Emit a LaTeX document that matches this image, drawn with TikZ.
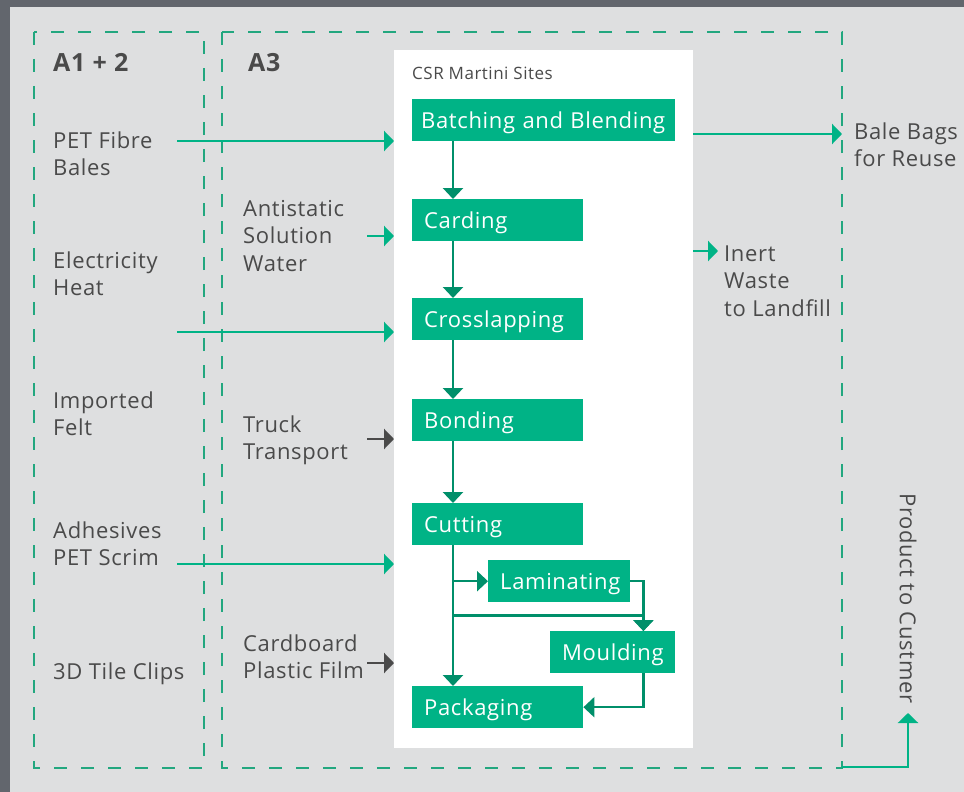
\documentclass[tikz,border=0pt]{standalone}
\usepackage{fontspec}
\setmainfont{Open Sans}[LetterSpace=3.0]
\usetikzlibrary{arrows.meta,positioning}
\definecolor{csrgreen}{HTML}{00B386}
\definecolor{csrdark}{HTML}{008F6A}
\definecolor{csrdash}{HTML}{22A77F}
\definecolor{csrgray}{HTML}{DEDFE0}
\definecolor{csrframe}{HTML}{62666D}
\definecolor{csrtext}{HTML}{4A4A4A}
\tikzset{
	zone/.style     = {draw=csrdash, line width=1.6pt, dash pattern=on 13pt off 14pt},
	sitebox/.style  = {fill=white, anchor=north west, inner sep=0pt, minimum width=299pt, minimum height=698pt},
	procbox/.style  = {fill=csrgreen, text=white, anchor=north west, inner xsep=12pt, inner ysep=0pt,
	                   minimum height=42pt, text height=19pt, text depth=3pt, align=left,
	                   font=\fontsize{22}{26}\selectfont},
	label/.style    = {anchor=base west, inner sep=0pt, align=left, text=csrtext, font=\fontsize{22}{27.5}\selectfont},
	stage/.style    = {label, font=\fontsize{25}{30}\selectfont\bfseries},
	flow/.style     = {draw=csrdark, line width=2.4pt, -{Triangle[width=20pt,length=11pt]}},
	feed/.style     = {draw=csrgreen, line width=2.4pt, -{Triangle[width=20pt,length=10pt]}},
	truck/.style    = {draw=csrtext, line width=2.4pt, -{Triangle[width=20pt,length=10pt]}},
}

\begin{document}
\begin{tikzpicture}[x=1pt, y=-1pt]
	\fill[csrframe] (0,0) rectangle (964,792);
	\fill[csrgray] (10,7) rectangle (964,792);
	\useasboundingbox (0,0) rectangle (964,792);
	% life cycle stages
	\draw[zone] (34,32) rectangle (204,768);
	\draw[zone] (222,32) rectangle (842,768);
	\node[stage] (stagea) at (53,72) {A1 + 2};
	\node[stage] (stageb) at (248,72) {A3};
	% CSR Martini Sites
	\node[sitebox] (site) at (394,50) {};
	\node[label, font=\fontsize{17}{20}\selectfont] (sitename) at (412,80) {CSR Martini Sites};
	\node[procbox, text width=245pt, inner xsep=9pt] (blend) at (412,99) {Batching and Blending};
	\node[procbox, text width=147pt] (card) at (412,199) {Carding};
	\node[procbox, text width=147pt] (cross) at (412,298) {Crosslapping};
	\node[procbox, text width=147pt] (bond) at (412,399) {Bonding};
	\node[procbox, text width=147pt] (cut) at (412,503) {Cutting};
	\node[procbox, text width=118pt] (lam) at (488,560) {Laminating};
	\node[procbox, text width=101pt] (mould) at (550,631) {Moulding};
	\node[procbox, text width=147pt] (pack) at (412,686) {Packaging};
	\draw[flow] ([xshift=41pt]blend.south west) -- ([xshift=41pt]card.north west);
	\draw[flow] ([xshift=41pt]card.south west) -- ([xshift=41pt]cross.north west);
	\draw[flow] ([xshift=41pt]cross.south west) -- ([xshift=41pt]bond.north west);
	\draw[flow] ([xshift=41pt]bond.south west) -- ([xshift=41pt]cut.north west);
	\coordinate (spine) at ([xshift=41pt]cut.south west);
	\coordinate (fork) at ([yshift=-70pt]spine);
	\coordinate (mouldin) at ([xshift=-32pt]mould.north east);
	\coordinate (mouldout) at ([xshift=-32pt]mould.south east);
	\draw[flow] (spine) -- ([xshift=41pt]pack.north west);
	\draw[flow] (spine |- lam.west) -- (lam.west);
	\draw[flow] (lam.east) -| (mouldin);
	\draw[flow] (fork) -| (mouldin);
	\draw[flow] (mouldout) |- (pack.east);
	% inputs
	\node[label] (fibre) at (53,175.5) {PET Fibre\\Bales};
	\node[label] (power) at (53,295.5) {Electricity\\Heat};
	\node[label] (felt) at (53,435.5) {Imported\\Felt};
	\node[label] (glue) at (53,565.5) {Adhesives\\PET Scrim};
	\node[label] (clips) at (53,679) {3D Tile Clips};
	\node[label] (antistat) at (243,271) {Antistatic\\Solution\\Water};
	\node[label] (transport) at (243,459.5) {Truck\\Transport};
	\node[label] (board) at (243,678.5) {Cardboard\\Plastic Film};
	\coordinate (fibrein) at (177,141);
	\coordinate (powerin) at (177,332);
	\coordinate (gluein) at (177,564);
	\coordinate (antistatin) at (367,236);
	\coordinate (transportin) at (367,439);
	\coordinate (boardin) at (367,663);
	\draw[feed] (fibrein) -- (fibrein -| site.west);
	\draw[feed] (powerin) -- (powerin -| site.west);
	\draw[feed] (gluein) -- (gluein -| site.west);
	\draw[feed] (antistatin) -- (antistatin -| site.west);
	\draw[truck] (transportin) -- (transportin -| site.west);
	\draw[truck] (boardin) -- (boardin -| site.west);
	% outputs
	\node[label] (bags) at (854,166.5) {Bale Bags\\for Reuse};
	\node[label] (waste) at (724,316) {Inert\\Waste\\to Landfill};
	\node[label, anchor=west, rotate=-90] (customer) at (908,493) {Product to Custmer};
	\coordinate (bagsout) at (693,134);
	\coordinate (wasteout) at (693,251);
	\coordinate (productout) at (842,767);
	\coordinate (producttip) at (908,713);
	\draw[feed] (bagsout) -- (842,134);
	\draw[feed] (wasteout) -- (718,251);
	\draw[feed] (productout) -| (producttip);
\end{tikzpicture}
\end{document}
